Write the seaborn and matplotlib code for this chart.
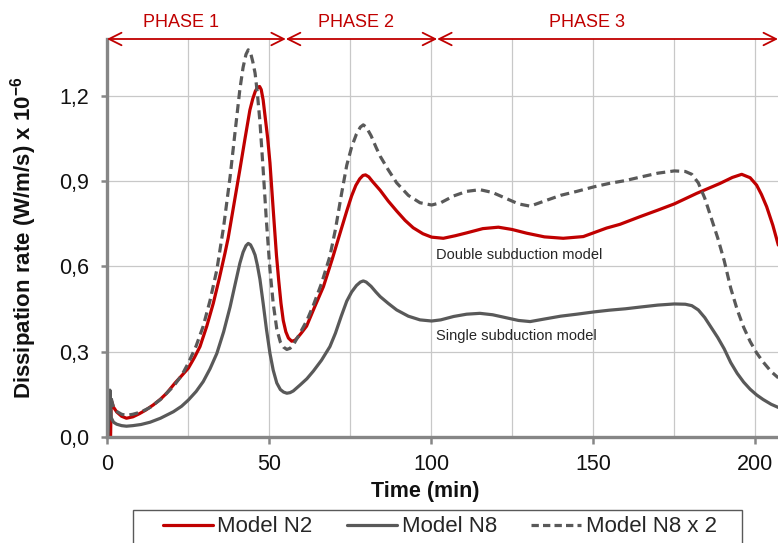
import matplotlib
matplotlib.use("Agg")
import matplotlib.pyplot as plt
from matplotlib.lines import Line2D
from matplotlib.patches import Rectangle
from matplotlib.ticker import FixedLocator
import pandas as pd
import seaborn as sns

# ---- data -------------------------------------------------------------
t_n2 = [1.1, 1.3, 2.0, 3.0, 4.5, 6.0, 8.0, 10.0, 12.0, 14.3, 16.5, 18.4, 21.0,
        23.0, 25.1, 27.0, 28.7, 30.8, 32.8, 34.6, 36.4, 37.4, 39.2, 41.0, 42.6,
        44.1, 45.0, 45.8, 46.5, 47.1, 47.6, 48.2, 48.8, 49.6, 50.3, 51.3, 52.3,
        53.0, 53.7, 54.4, 55.2, 56.0, 57.0, 58.0, 59.0, 60.0, 61.6, 64.0, 66.8,
        69.5, 71.9, 74.0, 75.5, 76.8, 78.0, 79.0, 79.8, 80.8, 82.0, 84.3, 86.8,
        89.4, 92.0, 94.5, 97.5, 100.2, 103.8, 107.5, 111.0, 116.0, 120.8, 125.0,
        129.5, 135.0, 140.8, 147.0, 154.2, 158.3, 164.5, 170.0, 175.1, 182.0,
        189.2, 193.0, 195.9, 198.5, 200.5, 202.0, 203.6, 205.5, 207.2]
n2 = [0.0, 0.13, 0.105, 0.088, 0.073, 0.066, 0.071, 0.082, 0.095, 0.113, 0.133,
      0.154, 0.19, 0.215, 0.242, 0.28, 0.318, 0.39, 0.47, 0.555, 0.646, 0.70,
      0.82, 0.94, 1.05, 1.15, 1.19, 1.217, 1.23, 1.233, 1.222, 1.185, 1.127,
      1.05, 0.964, 0.80, 0.64, 0.55, 0.47, 0.41, 0.37, 0.348, 0.337, 0.34,
      0.352, 0.366, 0.39, 0.455, 0.529, 0.625, 0.716, 0.795, 0.848, 0.885,
      0.908, 0.92, 0.922, 0.915, 0.898, 0.868, 0.83, 0.795, 0.762, 0.736,
      0.715, 0.703, 0.699, 0.708, 0.718, 0.733, 0.738, 0.73, 0.717, 0.704,
      0.699, 0.705, 0.735, 0.748, 0.775, 0.798, 0.82, 0.857, 0.892, 0.913,
      0.924, 0.912, 0.886, 0.853, 0.81, 0.745, 0.675]

t_n8 = [0.3, 0.9, 1.3, 2.0, 3.0, 4.5, 6.0, 8.0, 10.5, 13.3, 16.5, 20.5, 23.0,
        25.1, 27.5, 29.7, 31.8, 33.9, 36.0, 38.0, 39.5, 41.0, 42.0, 42.9, 43.6,
        44.3, 45.0, 45.7, 46.4, 47.2, 48.2, 49.2, 50.3, 51.3, 52.4, 53.5, 54.5,
        55.5, 56.5, 57.5, 59.6, 61.7, 63.7, 66.2, 68.8, 70.5, 72.3, 74.0, 75.5,
        77.0, 78.2, 79.1, 80.0, 81.5, 83.0, 84.3, 86.8, 89.4, 93.0, 96.6, 100.2,
        103.0, 107.0, 111.0, 115.1, 119.0, 123.0, 127.0, 130.6, 135.0, 140.0,
        145.0, 150.3, 155.0, 160.0, 164.5, 170.0, 175.1, 178.5, 180.5, 182.5,
        184.5, 186.5, 188.5, 190.5, 192.5, 194.5, 196.5, 198.5, 200.5, 202.5,
        205.0, 207.2]
n8 = [0.0, 0.165, 0.068, 0.052, 0.045, 0.04, 0.038, 0.04, 0.044, 0.052, 0.066,
      0.089, 0.108, 0.13, 0.16, 0.195, 0.24, 0.294, 0.37, 0.458, 0.535, 0.611,
      0.65, 0.673, 0.681, 0.676, 0.66, 0.64, 0.605, 0.555, 0.47, 0.38, 0.294,
      0.235, 0.19, 0.167, 0.158, 0.154, 0.156, 0.162, 0.183, 0.205, 0.232,
      0.27, 0.318, 0.365, 0.425, 0.478, 0.51, 0.533, 0.545, 0.549, 0.545,
      0.53, 0.51, 0.494, 0.47, 0.447, 0.425, 0.412, 0.408, 0.412, 0.424,
      0.432, 0.435, 0.43, 0.42, 0.41, 0.406, 0.415, 0.425, 0.432, 0.44, 0.446,
      0.451, 0.457, 0.464, 0.468, 0.467, 0.462, 0.447, 0.42, 0.385, 0.35, 0.31,
      0.262, 0.224, 0.193, 0.168, 0.148, 0.132, 0.115, 0.104]

# N8 scaled by two, as named in the legend (trace starts after the initial spike)
t_n8_x2 = t_n8[2:]
n8_x2 = [2 * v for v in n8[2:]]

series_names = ["Model N2", "Model N8", "Model N8 x 2"]
phase_names = ["PHASE 1", "PHASE 2", "PHASE 3"]
phase_bounds = [0.0, 55.2, 101.9, 207.1]
phase_label_x = [22.9, 76.7, 148.0]
y_ticks = [0.0, 0.3, 0.6, 0.9, 1.2]
y_tick_labels = ["0,0", "0,3", "0,6", "0,9", "1,2"]
x_ticks = [0, 50, 100, 150, 200]

# ---- long-form table --------------------------------------------------
df = pd.concat([
    pd.DataFrame({"time": t_n2, "value": n2, "series": series_names[0]}),
    pd.DataFrame({"time": t_n8, "value": n8, "series": series_names[1]}),
    pd.DataFrame({"time": t_n8_x2, "value": n8_x2, "series": series_names[2]}),
], ignore_index=True)

# ---- style ------------------------------------------------------------
sns.set_style("white")
plt.rcParams["font.family"] = ["Liberation Sans", "DejaVu Sans"]
plt.rcParams["mathtext.fontset"] = "custom"
plt.rcParams["mathtext.rm"] = "Liberation Sans"
plt.rcParams["mathtext.bf"] = "Liberation Sans:bold"

RED = "#C00000"
GREY = "#595959"
palette = {series_names[0]: RED, series_names[1]: GREY, series_names[2]: GREY}
dashes = {series_names[0]: "", series_names[1]: "", series_names[2]: (2.8, 1.6)}

fig = plt.figure(figsize=(7.78, 5.43), dpi=100)
ax = fig.add_axes([107 / 778, 1 - 437 / 543, 1 - 107 / 778, 398 / 543])

sns.lineplot(data=df, x="time", y="value", hue="series", style="series",
             palette=palette, dashes=dashes, estimator=None, sort=False,
             linewidth=2.3, legend=False, ax=ax)

ax.set_xlim(0, 207.1)
ax.set_ylim(0, 1.4)

# grid: horizontal every 0.3, vertical every 25 min
ax.xaxis.set_major_locator(FixedLocator(x_ticks))
ax.xaxis.set_minor_locator(FixedLocator([25, 75, 125, 175]))
ax.yaxis.set_major_locator(FixedLocator(y_ticks))
ax.set_yticklabels(y_tick_labels)
ax.grid(True, which="both", axis="x", color="#C8C8C8", lw=0.9)
ax.grid(True, which="major", axis="y", color="#C8C8C8", lw=0.9)
ax.set_axisbelow(True)

for side in ("top", "right"):
    ax.spines[side].set_visible(False)
for side in ("left", "bottom"):
    ax.spines[side].set_color("#868686")
    ax.spines[side].set_linewidth(2.4)

ax.tick_params(axis="x", which="major", direction="out", length=5, width=1.8,
               color="#868686", pad=7, labelsize=15.5, labelcolor="#111111",
               bottom=True)
ax.tick_params(axis="x", which="minor", length=0)
ax.tick_params(axis="y", direction="out", length=4, width=1.8,
               color="#868686", pad=9, labelsize=15.5, labelcolor="#111111",
               left=True)

ax.set_xlabel("Time (min)", fontsize=15.5, fontweight="bold", color="#111111")
ax.xaxis.set_label_coords((425 - 107) / 671, -0.136)
ax.xaxis.label.set_va("center")
ax.set_ylabel(r"Dissipation rate (W/m/s) x 10$^{\mathbf{-6}}$", fontsize=16,
              fontweight="bold", color="#111111")
ax.yaxis.label.set_va("center")
ax.yaxis.set_label_coords(-0.125, 0.5)

# phase arrows along the top edge
for x0, x1 in zip(phase_bounds[:-1], phase_bounds[1:]):
    ax.annotate("", xy=(x1, 1.4), xytext=(x0, 1.4), xycoords="data",
                annotation_clip=False,
                arrowprops=dict(arrowstyle="<->,head_length=0.9,head_width=0.45",
                                color=RED, lw=1.3, shrinkA=0, shrinkB=0))
for name, xc in zip(phase_names, phase_label_x):
    ax.text(xc, 1.4 + 17 / 284.3, name, color=RED, fontsize=13,
            ha="center", va="center", clip_on=False)

# curve annotations
ax.text(101.5, 0.64, "Double subduction model", fontsize=10.5,
        color="#262626", ha="left", va="center")
ax.text(101.5, 0.355, "Single subduction model", fontsize=10.5,
        color="#262626", ha="left", va="center")

# legend along the bottom, its frame running past the lower edge
fig.patches.append(Rectangle((133 / 778, -0.05), (742 - 133) / 778,
                             1 - 509.5 / 543 + 0.05, transform=fig.transFigure,
                             fill=False, edgecolor="#595959", lw=1.0))
handles = [Line2D([], [], color=palette[n], lw=2.3) for n in series_names]
handles[2].set_dashes((2.3, 1.3))
fig.legend(handles, series_names, loc="center left",
           bbox_to_anchor=(163 / 778, 1 - 527 / 543), frameon=False,
           ncol=3, fontsize=16, handlelength=2.25, handletextpad=0.2,
           columnspacing=1.55, borderpad=0, borderaxespad=0)

fig.savefig("out.png", dpi=100)
